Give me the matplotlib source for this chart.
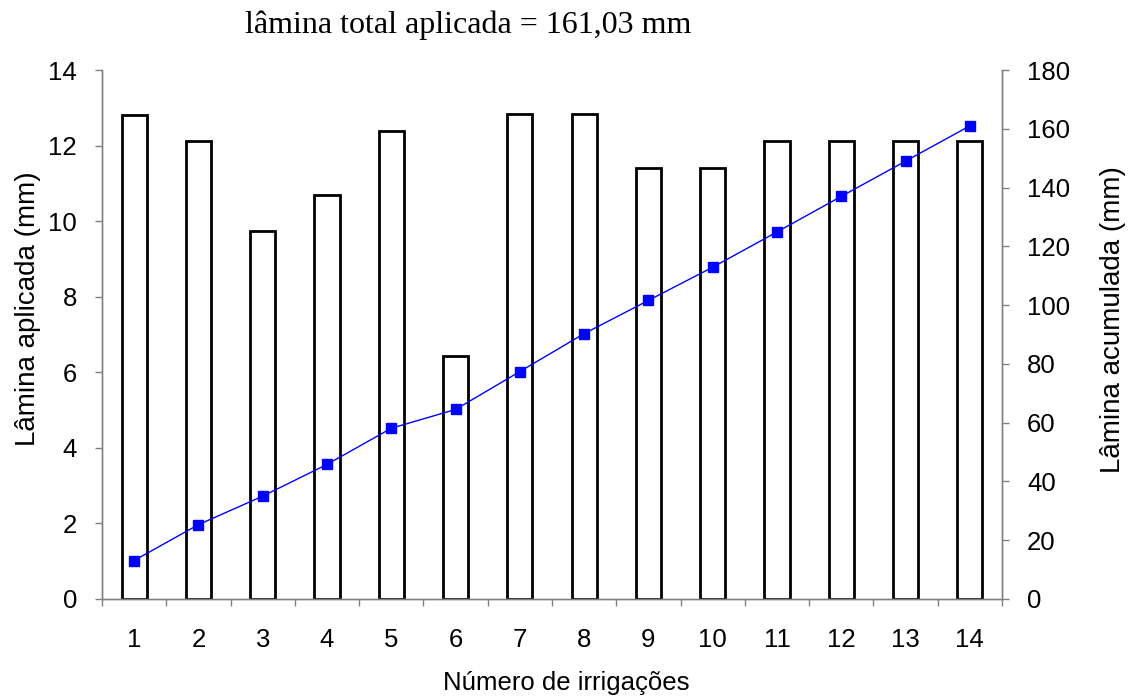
import numpy as np
import matplotlib.pyplot as plt

irrigacoes = list(range(1, 15))
lamina_aplicada = [12.81, 12.12, 9.74, 10.69, 12.38, 6.44, 12.83, 12.83,
                   11.41, 11.41, 12.12, 12.12, 12.12, 12.12]
lamina_acumulada = [13.1, 25.3, 35.0, 45.8, 58.1, 64.5, 77.4, 90.3,
                    101.6, 112.9, 124.9, 137.0, 149.0, 161.0]

W, H = 1143, 697
fig = plt.figure(figsize=(W / 100, H / 100), dpi=100)
ax = fig.add_axes([102 / W, 1 - 599 / H, 900 / W, 529 / H])
ax2 = ax.twinx()

sans = ['Liberation Sans', 'DejaVu Sans']
serif = ['Liberation Serif', 'DejaVu Serif']
gray = '#808080'
fs = 18.5

ax.bar(irrigacoes, lamina_aplicada, width=0.39, color='white',
       edgecolor='black', linewidth=2.0, zorder=2)
ax2.plot(irrigacoes, lamina_acumulada, color='#0000ff', linewidth=1,
         marker='s', markersize=6.5, zorder=3)

ax.set_xlim(0.5, 14.5)
ax.set_ylim(0, 14)
ax2.set_ylim(0, 180)
ax.set_yticks(np.arange(0, 15, 2))
ax2.set_yticks(np.arange(0, 181, 20))

# x ticks sit between categories, labels at category centres
ax.set_xticks(np.arange(0.5, 15, 1))
ax.set_xticklabels([])
ax.set_xticks(irrigacoes, minor=True)
ax.set_xticklabels([str(i) for i in irrigacoes], minor=True,
                   fontfamily=sans, fontsize=fs)
ax.tick_params(axis='x', which='major', direction='out', length=5,
               color=gray, width=1)
ax.tick_params(axis='x', which='minor', length=0, pad=21)
ax.tick_params(axis='y', direction='out', length=5, color=gray, width=1,
               labelsize=fs, pad=13)
ax2.tick_params(axis='y', direction='out', length=5, color=gray, width=1,
                labelsize=fs, pad=13)
for a in (ax, ax2):
    for lab in a.get_yticklabels():
        lab.set_fontfamily(sans)
    a.spines['top'].set_visible(False)
    for s in ('left', 'right', 'bottom'):
        a.spines[s].set_color(gray)
        a.spines[s].set_linewidth(1.0)
ax.set_zorder(ax2.get_zorder() - 1)
ax.patch.set_visible(True)
ax2.patch.set_visible(False)

# axis titles placed where the reference has them
fig.text(566 / W, 1 - 683 / H, 'Número de irrigações', fontfamily=sans,
         fontsize=fs, ha='center', va='center')
fig.text(28 / W, 1 - 309 / H, 'Lâmina aplicada (mm)', fontfamily=sans,
         fontsize=20, ha='center', va='center', rotation=90)
fig.text(1113 / W, 1 - 320 / H, 'Lâmina acumulada (mm)', fontfamily=sans,
         fontsize=20, ha='center', va='center', rotation=90)

fig.text(468 / W, 1 - 25 / H, 'lâmina total aplicada = 161,03 mm',
         fontfamily=serif, fontsize=23, ha='center', va='center')

fig.savefig('out.png', dpi=100)
